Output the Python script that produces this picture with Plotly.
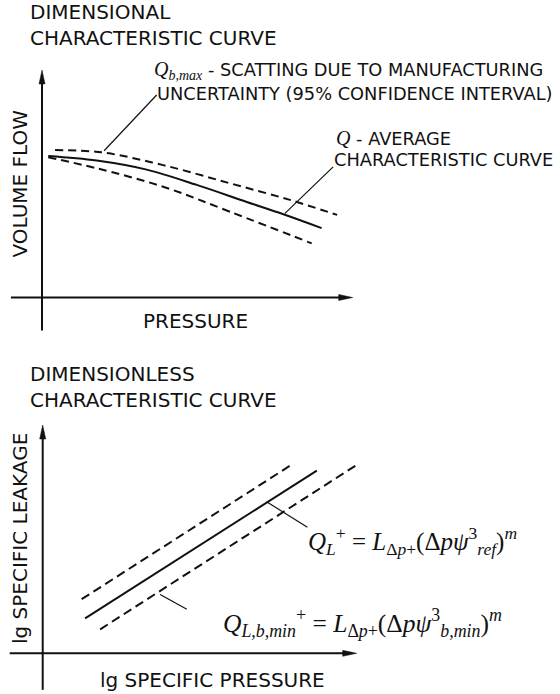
import plotly.graph_objects as go

W, H = 560, 694

# ---------------- data (schematic units, axis tip = 10) ----------------
# Top panel: dimensional characteristic curve (pressure vs volume flow)
dim_avg_x = [0.20, 1.76, 3.37, 4.98, 6.59, 7.77, 9.00]
dim_avg_y = [6.22, 6.02, 5.62, 4.95, 4.20, 3.66, 3.05]
dim_max_x = [0.42, 1.92, 3.90, 6.05, 7.98, 9.50]
dim_max_y = [6.48, 6.38, 5.82, 5.02, 4.29, 3.63]
dim_min_x = [0.20, 1.76, 3.90, 6.05, 8.68]
dim_min_y = [6.16, 5.68, 4.87, 3.77, 2.38]
dim_leader_max_x = [2.00, 3.69]
dim_leader_max_y = [6.45, 8.90]
dim_leader_avg_x = [7.82, 9.37]
dim_leader_avg_y = [3.70, 5.74]

# Bottom panel: dimensionless characteristic curve (log-log lines)
dl_ref_x = [1.35, 8.73]
dl_ref_y = [1.53, 8.00]
dl_upper_x = [1.24, 7.88]
dl_upper_y = [2.37, 8.22]
dl_min_x = [1.83, 10.0]
dl_min_y = [1.05, 8.25]
dl_leader_ref_x = [7.13, 8.43]
dl_leader_ref_y = [6.64, 5.52]
dl_leader_min_x = [3.74, 4.59]
dl_leader_min_y = [2.58, 1.93]

# axis extents (tail, tip)
top_xaxis_ext = [-1.0, 10.0]
top_yaxis_ext = [-1.45, 10.0]
bot_xaxis_ext = [-1.05, 10.0]
bot_yaxis_ext = [-1.6, 10.0]

top_title = "DIMENSIONAL<br>CHARACTERISTIC CURVE"
bot_title = "DIMENSIONLESS<br>CHARACTERISTIC CURVE"
top_xlabel = "PRESSURE"
top_ylabel = "VOLUME FLOW"
bot_xlabel = "lg SPECIFIC PRESSURE"
bot_ylabel = "lg SPECIFIC LEAKAGE"

# ---------------- layout geometry ----------------
TOP = dict(ox=42.0, oy=297.5, sx=31.07, sy=22.75, y0=0, y1=347)
BOT = dict(ox=42.7, oy=653.3, sx=31.4, sy=22.83, y0=347, y1=694)

SANS = "DejaVu Sans"
SERIF = "Liberation Serif"
INK = "#111111"


def pp(px, py):
    return px / W, 1 - py / H


fig = go.Figure()

DASH_TOP = "8px,5px"
DASH_BOT = "9px,5px"


def add_line(x, y, xa, ya, width=2.0, dash="solid", spline=False):
    fig.add_trace(go.Scatter(
        x=x, y=y, xaxis=xa, yaxis=ya, mode="lines",
        line=dict(color=INK, width=width, dash=dash,
                  shape="spline" if spline else "linear", smoothing=1.0),
        hoverinfo="skip", showlegend=False))


add_line(dim_max_x, dim_max_y, "x", "y", dash=DASH_TOP, spline=True)
add_line(dim_min_x, dim_min_y, "x", "y", dash=DASH_TOP, spline=True)
add_line(dim_avg_x, dim_avg_y, "x", "y", spline=True)
add_line(dim_leader_max_x, dim_leader_max_y, "x", "y", width=1.2)
add_line(dim_leader_avg_x, dim_leader_avg_y, "x", "y", width=1.2)

add_line(dl_upper_x, dl_upper_y, "x2", "y2", dash=DASH_BOT)
add_line(dl_min_x, dl_min_y, "x2", "y2", dash=DASH_BOT)
add_line(dl_ref_x, dl_ref_y, "x2", "y2")
add_line(dl_leader_ref_x, dl_leader_ref_y, "x2", "y2", width=1.2)
add_line(dl_leader_min_x, dl_leader_min_y, "x2", "y2", width=1.2)


def axis_cfg(g, domain_y):
    xr = [(0 - g["ox"]) / g["sx"], (W - g["ox"]) / g["sx"]]
    yr = [(g["oy"] - g["y1"]) / g["sy"], (g["oy"] - g["y0"]) / g["sy"]]
    common = dict(showgrid=False, zeroline=False, showticklabels=False,
                  ticks="", showline=False, fixedrange=True)
    return dict(range=xr, domain=[0, 1], **common), dict(range=yr, domain=domain_y, **common)


xa1, ya1 = axis_cfg(TOP, [1 - TOP["y1"] / H, 1 - TOP["y0"] / H])
xa2, ya2 = axis_cfg(BOT, [1 - BOT["y1"] / H, 1 - BOT["y0"] / H])
xa1["anchor"] = "y"
ya1["anchor"] = "x"
xa2["anchor"] = "y2"
ya2["anchor"] = "x2"

shapes = []
ARROW_LEN, ARROW_HALF = 14.0, 3.0


def add_axes(g, xref, yref, xext, yext):
    shapes.append(dict(type="line", xref=xref, yref=yref, x0=xext[0], x1=xext[1] - 10 / g["sx"],
                       y0=0, y1=0, line=dict(color=INK, width=2)))
    shapes.append(dict(type="line", xref=xref, yref=yref, x0=0, x1=0, y0=yext[0],
                       y1=yext[1] - 10 / g["sy"], line=dict(color=INK, width=2)))
    tx = xext[1]
    L, Hh = ARROW_LEN / g["sx"], ARROW_HALF / g["sy"]
    shapes.append(dict(type="path", xref=xref, yref=yref,
                       path=f"M{tx},0 L{tx - L},{Hh} L{tx - L},{-Hh} Z",
                       fillcolor=INK, line=dict(color=INK, width=0.5)))
    ty = yext[1]
    Lv, Hw = ARROW_LEN / g["sy"], ARROW_HALF / g["sx"]
    shapes.append(dict(type="path", xref=xref, yref=yref,
                       path=f"M0,{ty} L{Hw},{ty - Lv} L{-Hw},{ty - Lv} Z",
                       fillcolor=INK, line=dict(color=INK, width=0.5)))


add_axes(TOP, "x", "y", top_xaxis_ext, top_yaxis_ext)
add_axes(BOT, "x2", "y2", bot_xaxis_ext, bot_yaxis_ext)

annotations = []


def text(px, py, s, size, xanchor="left", family=SANS, angle=0, yanchor="middle"):
    x, y = pp(px, py)
    annotations.append(dict(x=x, y=y, xref="paper", yref="paper", text=s, showarrow=False,
                            xanchor=xanchor, yanchor=yanchor, textangle=angle,
                            align="left" if xanchor == "left" else "center",
                            font=dict(family=family, size=size, color=INK)))


qs = f'<span style="font-family:{SERIF};font-size:20px">'

text(28, 24.5, top_title, 20)
text(28, 386.5, bot_title, 20)
text(19, 183.5, top_ylabel, 20, xanchor="center", angle=-90)
text(195.5, 321, top_xlabel, 20, xanchor="center")
text(20, 539, bot_ylabel, 20, xanchor="center", angle=-90)
text(212, 680, bot_xlabel, 20, xanchor="center")

text(152, 70.5, qs + "<i>Q</i><sub><i>b,max</i></sub></span> - SCATTING DUE TO MANUFACTURING", 17.8)
text(155, 94, "UNCERTAINTY (95% CONFIDENCE INTERVAL)", 17.8)
text(334, 138, qs + "<i>Q</i></span> - AVERAGE", 17.8)
text(332, 159, "CHARACTERISTIC CURVE", 17.8)

text(306, 541, "<i>Q</i><sub><i>L</i></sub><sup>+</sup> = <i>L</i><sub>Δ<i>p</i>+</sub>"
     "(Δ<i>pψ</i><sup>3</sup><sub><i>ref</i></sub>)<sup><i>m</i></sup>", 25, family=SERIF)
text(221, 623, "<i>Q</i><sub><i>L,b,min</i></sub><sup>+</sup> = <i>L</i><sub>Δ<i>p</i>+</sub>"
     "(Δ<i>pψ</i><sup>3</sup><sub><i>b,min</i></sub>)<sup><i>m</i></sup>", 25.5, family=SERIF)

fig.update_layout(
    width=W, height=H, margin=dict(l=0, r=0, t=0, b=0, pad=0),
    paper_bgcolor="white", plot_bgcolor="white", showlegend=False,
    xaxis=xa1, yaxis=ya1, xaxis2=xa2, yaxis2=ya2,
    shapes=shapes, annotations=annotations,
)

fig.write_html("out.html", config={"displayModeBar": False})
